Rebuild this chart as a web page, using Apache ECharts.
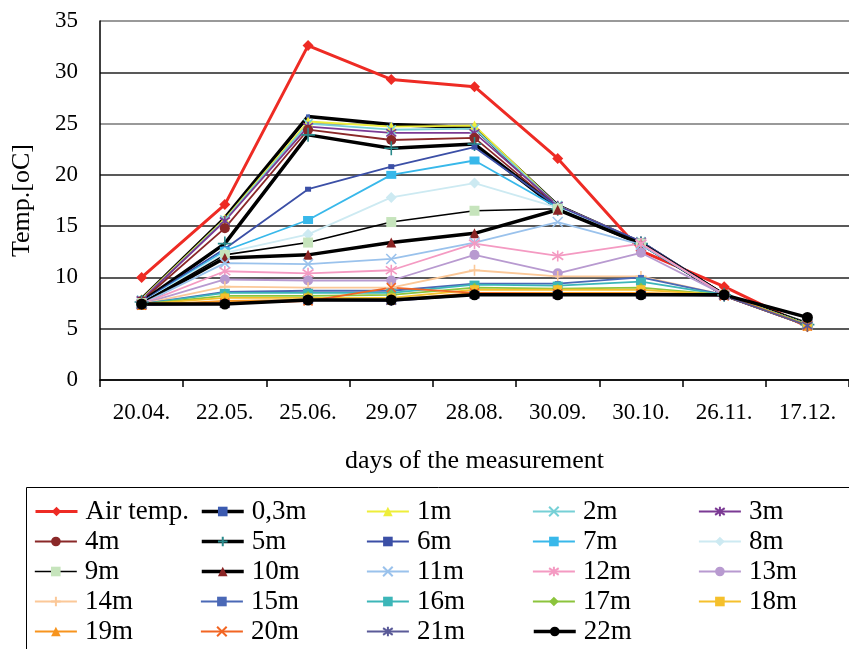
<!DOCTYPE html>
<html><head><meta charset="utf-8">
<script src="https://cdn.jsdelivr.net/npm/echarts@6/dist/echarts.min.js"></script>
<style>html,body{margin:0;padding:0;background:#fff}#c{width:849px;height:649px}</style>
</head><body><div id="c"></div>
<script>
const categories = ['20.04.','22.05.','25.06.','29.07','28.08.','30.09.','30.10.','26.11.','17.12.'];
const yTicks = [0,5,10,15,20,25,30,35];
const airTemp = [10.0, 17.1, 32.6, 29.3, 28.6, 21.6, 12.6, 9.1, 5.2];
const d03 = [7.9, 15.8, 25.7, 24.9, 24.6, 17.0, 13.4, 8.3, 5.5];
const d1  = [7.9, 15.7, 25.2, 24.7, 24.8, 17.0, 13.4, 8.3, 5.5];
const d2  = [7.8, 15.6, 25.0, 24.4, 24.5, 17.0, 13.5, 8.3, 5.5];
const d3  = [7.8, 15.5, 24.7, 24.1, 24.1, 17.0, 13.5, 8.3, 5.4];
const d4  = [7.7, 14.8, 24.4, 23.4, 23.6, 16.8, 13.3, 8.3, 5.4];
const d5  = [7.6, 13.3, 23.9, 22.6, 23.0, 16.7, 13.3, 8.3, 5.4];
const d6  = [7.6, 12.8, 18.6, 20.8, 22.7, 16.9, 13.5, 8.3, 5.4];
const d7  = [7.5, 12.6, 15.6, 20.0, 21.4, 16.8, 13.2, 8.3, 5.4];
const d8  = [7.5, 12.4, 14.2, 17.8, 19.2, 16.8, 13.3, 8.3, 5.4];
const d9  = [7.5, 12.2, 13.4, 15.4, 16.5, 16.7, 13.3, 8.3, 5.4];
const d10 = [7.4, 11.9, 12.2, 13.4, 14.3, 16.6, 13.3, 8.3, 5.4];
const d11 = [7.4, 11.4, 11.3, 11.8, 13.4, 15.4, 13.2, 8.3, 5.4];
const d12 = [7.4, 10.6, 10.4, 10.7, 13.3, 12.1, 13.3, 8.3, 5.4];
const d13 = [7.4, 9.8, 9.7, 9.7, 12.2, 10.4, 12.4, 8.3, 5.4];
const d14 = [7.4, 9.1, 9.0, 9.0, 10.7, 10.1, 10.1, 8.3, 5.4];
const d15 = [7.4, 8.6, 8.7, 8.7, 9.4, 9.4, 10.0, 8.3, 5.4];
const d16 = [7.4, 8.5, 8.5, 8.5, 9.3, 9.2, 9.6, 8.3, 5.4];
const d17 = [7.4, 8.2, 8.2, 8.3, 9.0, 8.9, 9.0, 8.3, 5.4];
const d18 = [7.4, 8.0, 8.0, 8.0, 8.8, 8.8, 8.8, 8.3, 5.3];
const d19 = [7.3, 7.7, 7.8, 7.8, 8.5, 8.5, 8.5, 8.3, 5.3];
const d20 = [7.3, 7.5, 7.7, 9.0, 8.5, 8.4, 8.4, 8.2, 5.3];
const d21 = [7.3, 7.4, 7.8, 7.7, 8.3, 8.3, 8.3, 8.2, 5.3];
const d22 = [7.4, 7.4, 7.8, 7.8, 8.3, 8.3, 8.3, 8.3, 6.1];

const X = 'path://M0 0L10 10M10 0L0 10';
const PLUS = 'path://M5 0L5 10M0 5L10 5';
const STAR = 'path://M5 0L5 10M1.5 1.5L8.5 8.5M8.5 1.5L1.5 8.5';
const DASH = 'path://M0 3.5L10 3.5L10 6.5L0 6.5Z';

function S(name, data, line, width, sym, mcol, size, stroke) {
  return {
    name, type: 'line', data,
    symbol: sym, symbolSize: size, showSymbol: true,
    lineStyle: {color: line, width: width},
    itemStyle: stroke ? {color: mcol, borderColor: mcol, borderWidth: 1.6} : {color: mcol, borderWidth: 0},
    emphasis: {disabled: true}
  };
}
const series = [
  S('Air temp.', airTemp, '#ee2b24', 3, 'diamond', '#ee2b24', 11),
  S('0,3m', d03, '#000', 3.5, 'rect', '#3b5ab0', 4),
  S('1m', d1, '#eeee3a', 1.8, 'triangle', '#eeee3a', 10),
  S('2m', d2, '#76d0d6', 1.8, X, '#76d0d6', 9, true),
  S('3m', d3, '#7b3a94', 1.8, STAR, '#7b3a94', 10, true),
  S('4m', d4, '#8a2828', 1.8, 'circle', '#8a2828', 10),
  S('5m', d5, '#000', 3.5, PLUS, '#2a8a8c', 14, true),
  S('6m', d6, '#3b4fa6', 1.8, 'rect', '#3b4fa6', [6,5]),
  S('7m', d7, '#38b8ea', 1.8, DASH, '#38b8ea', [10,8]),
  S('8m', d8, '#cdeaf2', 1.8, 'diamond', '#cdeaf2', 11),
  S('9m', d9, '#000', 1.6, 'rect', '#c6e4bc', 10),
  S('10m', d10, '#000', 3.5, 'triangle', '#8a2424', 10),
  S('11m', d11, '#9ac2ec', 1.8, X, '#9ac2ec', 10, true),
  S('12m', d12, '#f49ac2', 1.8, STAR, '#f49ac2', 11, true),
  S('13m', d13, '#b89ad0', 1.8, 'circle', '#b89ad0', 10),
  S('14m', d14, '#fbc898', 1.8, PLUS, '#fbc898', 11, true),
  S('15m', d15, '#4a68b6', 1.8, 'rect', '#4a68b6', [6,5]),
  S('16m', d16, '#3cb6b8', 1.8, DASH, '#3cb6b8', [10,8]),
  S('17m', d17, '#8cc43c', 1.8, 'diamond', '#8cc43c', 10),
  S('18m', d18, '#f5c02c', 1.8, 'rect', '#f5c02c', 9),
  S('19m', d19, '#f7941e', 1.8, 'triangle', '#f7941e', 10),
  S('20m', d20, '#f26522', 1.8, X, '#f26522', 9, true),
  S('21m', d21, '#5a5a98', 1.8, STAR, '#5a5a98', 10, true),
  S('22m', d22, '#000', 3.5, 'circle', '#000', 11)
];
const names = series.map(s => s.name);
const colLeft = [34, 200, 366, 532, 698];
const legends = series.map((s, i) => ({
  orient: 'horizontal', left: colLeft[i % 5], top: 498 + 30 * Math.floor(i / 5), padding: 0,
  itemWidth: 42, itemHeight: 12, itemGap: 0,
  selectedMode: false,
  lineStyle: {width: s.lineStyle.width, color: s.lineStyle.color},
  textStyle: {fontFamily: 'Liberation Serif', fontSize: 27, color: '#000', padding: [0,0,0,3]},
  data: [s.name]
}));

const chart = echarts.init(document.getElementById('c'), null, {renderer: 'canvas'});
chart.setOption({
  animation: false,
  backgroundColor: '#fff',
  grid: {left: 100, top: 21, width: 756, bottom: 269, containLabel: false},
  legend: legends,
  graphic: [{type: 'rect', shape: {x: 26.5, y: 487.5, width: 850, height: 200}, style: {fill: 'none', stroke: '#000', lineWidth: 1}}],
  xAxis: {
    type: 'category', data: categories, boundaryGap: true,
    axisLine: {lineStyle: {color: '#000', width: 1.5}},
    axisTick: {show: true, length: 7, lineStyle: {color: '#000', width: 1.5}},
    axisLabel: {fontFamily: 'Liberation Serif', fontSize: 23, color: '#000', margin: 21},
    name: 'days of the measurement', nameLocation: 'middle', nameGap: 68,
    nameTextStyle: {fontFamily: 'Liberation Serif', fontSize: 26, color: '#000'}
  },
  yAxis: {
    type: 'value', min: 0, max: 35, interval: 5,
    axisLine: {show: true, lineStyle: {color: '#000', width: 1.5}},
    axisTick: {show: false},
    axisLabel: {fontFamily: 'Liberation Serif', fontSize: 23, color: '#000', margin: 22,
      formatter: v => yTicks.includes(v) ? String(v) : ''},
    splitLine: {lineStyle: {color: ['#222','#222','#222','#222','#222','#777','#222','#777'], width: 1.5}},
    name: 'Temp.[oC]', nameLocation: 'middle', nameGap: 65, nameRotate: 90,
    nameTextStyle: {fontFamily: 'Liberation Serif', fontSize: 26, color: '#000'}
  },
  series: series
});
</script></body></html>
